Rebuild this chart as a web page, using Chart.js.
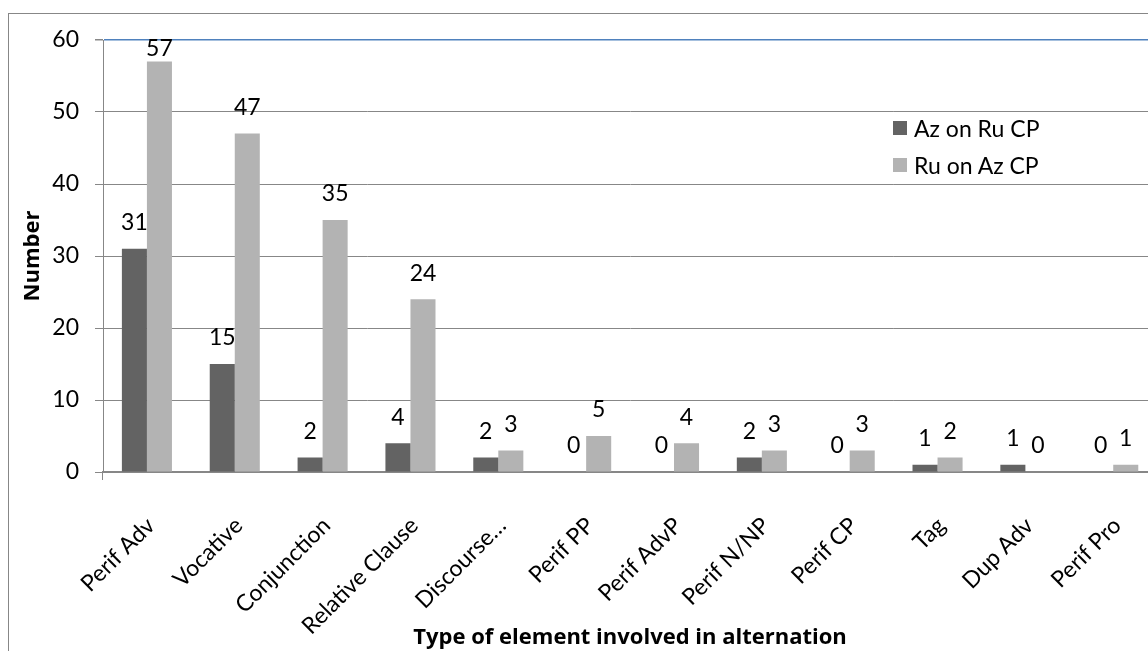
<!DOCTYPE html>
<html>
<head>
<meta charset="utf-8">
<script src="https://cdn.jsdelivr.net/npm/chart.js@4/dist/chart.umd.min.js"></script>
<style>
  body { margin: 0; width: 1148px; height: 651px; overflow: hidden; background: #fff; position: relative; font-family: Lato, "Open Sans", sans-serif; }
  #frame { position: absolute; left: 8px; top: 13px; width: 1300px; height: 800px; border: 1px solid #878787; }
  #wrap { position: absolute; left: 0; top: 0; width: 1165px; height: 651px; }
  #legend { position: absolute; left: 893px; top: 109px; font-size: 23px; color: #000; }
  .item { height: 37px; display: flex; align-items: center; }
  .sw { width: 14px; height: 14px; margin-right: 7px; }
</style>
</head>
<body>
<div id="frame"></div>
<div id="wrap"><canvas id="chart"></canvas></div>
<div id="legend"></div>
<script>
        const categories = ['Perif Adv', 'Vocative', 'Conjunction', 'Relative Clause', 'Discourse…',
            'Perif PP', 'Perif AdvP', 'Perif N/NP', 'Perif CP', 'Tag', 'Dup Adv', 'Perif Pro'];
        const azOnRu = [31, 15, 2, 4, 2, 0, 0, 2, 0, 1, 1, 0];
        const ruOnAz = [57, 47, 35, 24, 3, 5, 4, 3, 3, 2, 0, 1];
        const seriesNames = ['Az on Ru CP', 'Ru on Az CP'];
        const seriesColors = ['#636363', '#b3b3b3'];
        const yTicks = [0, 10, 20, 30, 40, 50, 60];

        const family = 'Lato, "Open Sans", sans-serif';
        const font = { family: family, size: 23 };
        const boldFont = { family: '"Open Sans", sans-serif', size: 22, weight: 'bold' };

        // Value labels above the bars
        const valueLabels = {
            id: 'valueLabels',
            afterDatasetsDraw(chart) {
                const ctx = chart.ctx;
                ctx.save();
                ctx.font = `23px ${family}`;
                ctx.fillStyle = '#000';
                ctx.textAlign = 'center';
                ctx.textBaseline = 'middle';
                chart.data.datasets.forEach((ds, i) => {
                    chart.getDatasetMeta(i).data.forEach((bar, j) => {
                        const y = Math.max(bar.y - 26, chart.chartArea.top + 9);
                        ctx.fillText(String(ds.data[j]), bar.x, y);
                    });
                });
                ctx.restore();
            }
        };

        const canvas = document.getElementById('chart');
        canvas.width = 1165;
        canvas.height = 651;

        new Chart(canvas.getContext('2d'), {
            type: 'bar',
            data: {
                labels: categories,
                datasets: [
                    { label: seriesNames[0], data: azOnRu, backgroundColor: seriesColors[0], barPercentage: 1, categoryPercentage: 0.57 },
                    { label: seriesNames[1], data: ruOnAz, backgroundColor: seriesColors[1], barPercentage: 1, categoryPercentage: 0.57 }
                ]
            },
            options: {
                responsive: false,
                animation: false,
                layout: { padding: { top: 40, right: 6, left: 0, bottom: 0 } },
                plugins: { legend: { display: false }, tooltip: { enabled: false } },
                scales: {
                    x: {
                        ticks: { font: font, color: '#000', minRotation: 45, maxRotation: 45, autoSkip: false, padding: 32, labelOffset: 4 },
                        grid: {
                            drawOnChartArea: false, tickLength: 8,
                            color: (c) => c.index === 0 ? '#878787' : 'rgba(0,0,0,0)'
                        },
                        border: { color: '#878787', width: 2 },
                        title: { display: true, text: 'Type of element involved in alternation', font: boldFont, color: '#000', padding: { top: 0, bottom: 0 } },
                        afterFit: (scale) => { scale.height = 179; }
                    },
                    y: {
                        min: 0, max: 60,
                        afterBuildTicks: (scale) => { scale.ticks = yTicks.map(v => ({ value: v })); },
                        ticks: { font: font, color: '#000', padding: 16 },
                        grid: {
                            color: (c) => c.tick && c.tick.value === 60 ? '#4f81bd' : '#878787',
                            tickColor: '#878787', tickLength: 8, lineWidth: (c) => c.tick && c.tick.value === 60 ? 1.5 : 1
                        },
                        border: { color: '#878787', width: 1 },
                        title: { display: true, text: 'Number', font: boldFont, color: '#000', padding: { top: 20, bottom: 0 } },
                        afterFit: (scale) => { scale.width = 103; }
                    }
                }
            },
            plugins: [valueLabels]
        });

        // Legend inside the plot area
        const legend = document.getElementById('legend');
        seriesNames.forEach((name, i) => {
            legend.innerHTML += `<div class="item"><span class="sw" style="background:${seriesColors[i]}"></span>${name}</div>`;
        });
</script>
</body>
</html>
